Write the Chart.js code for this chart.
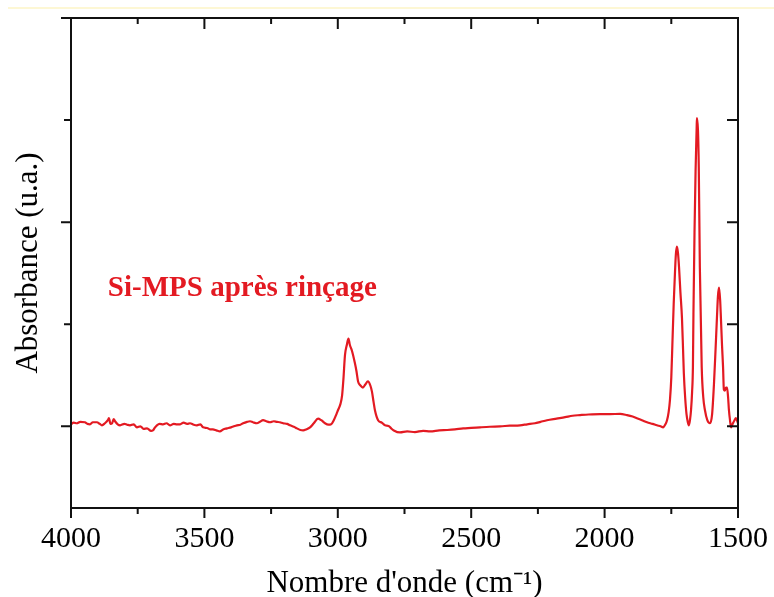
<!DOCTYPE html>
<html>
<head>
<meta charset="utf-8">
<script src="https://cdn.jsdelivr.net/npm/chart.js@4.4.0/dist/chart.umd.min.js"></script>
<style>
  html, body { margin: 0; padding: 0; background: #fff; }
</style>
</head>
<body>
<canvas id="myChart" width="774" height="597"></canvas>
<script>
// IR spectrum, values
var wavenumbers = [
  4000, 3990, 3978, 3965, 3948, 3938, 3929, 3918, 3903, 3892, 3884, 3873, 3862, 3858, 3852, 3846, 3840, 3835, 3825, 3816,
  3800, 3790, 3779, 3765, 3753, 3740, 3728, 3715, 3700, 3693, 3685, 3678, 3668, 3655, 3642, 3629, 3615, 3603, 3591, 3578,
  3565, 3554, 3540, 3528, 3515, 3505, 3490, 3478, 3468, 3455, 3442, 3430, 3415, 3400, 3390, 3378, 3365, 3355, 3340, 3329,
  3318, 3303, 3292, 3280, 3268, 3254, 3240, 3228, 3217, 3205, 3190, 3179, 3165, 3153, 3140, 3130, 3118, 3104, 3090, 3074,
  3062, 3048, 3035, 3025, 3015, 3005, 2999, 2990, 2984, 2979, 2973, 2966, 2960, 2955, 2947, 2936, 2930, 2924, 2915, 2906,
  2897, 2887, 2878, 2872, 2866, 2861, 2849, 2835, 2823, 2810, 2800, 2790, 2767, 2740, 2711, 2680, 2654, 2620, 2590, 2561,
  2530, 2500, 2467, 2430, 2392, 2355, 2317, 2290, 2261, 2240, 2216, 2180, 2148, 2120, 2092, 2060, 2017, 1980, 1942, 1916,
  1895, 1879, 1860, 1841, 1820, 1804, 1790, 1781, 1772, 1766, 1760, 1755, 1750, 1746, 1741, 1736, 1733, 1729, 1725, 1721,
  1716, 1710, 1706, 1703, 1698, 1693, 1688, 1684, 1680, 1676, 1672, 1669, 1667, 1663, 1659, 1655, 1654, 1650, 1647, 1643,
  1636, 1630, 1624, 1615, 1605, 1597, 1590, 1584, 1579, 1575, 1571, 1567, 1564, 1560, 1556, 1553, 1549, 1545, 1541, 1537,
  1534, 1530, 1526, 1519, 1513, 1508, 1500
];
var absorbance = [
  0.010, 0.018, 0.015, 0.022, 0.020, 0.012, 0.010, 0.020, 0.020, 0.012, 0.005, 0.015, 0.030, 0.040, 0.012, 0.015, 0.035, 0.025, 0.010, 0.005,
  0.012, 0.008, 0.005, 0.010, -0.005, 0.000, -0.012, -0.010, -0.022, -0.020, -0.005, 0.005, 0.012, 0.010, 0.015, 0.005, 0.012, 0.010, 0.010, 0.018,
  0.012, 0.015, 0.008, 0.005, 0.010, -0.005, -0.008, -0.015, -0.015, -0.020, -0.025, -0.015, -0.010, -0.005, 0.000, 0.005, 0.008, 0.015, 0.022, 0.025,
  0.020, 0.015, 0.022, 0.030, 0.025, 0.020, 0.025, 0.022, 0.020, 0.015, 0.012, 0.005, -0.002, -0.010, -0.018, -0.020, -0.015, -0.005, 0.015, 0.038,
  0.030, 0.015, 0.008, 0.010, 0.030, 0.060, 0.080, 0.110, 0.150, 0.230, 0.350, 0.400, 0.430, 0.400, 0.370, 0.310, 0.270, 0.220, 0.200, 0.190,
  0.205, 0.220, 0.200, 0.170, 0.120, 0.080, 0.030, 0.018, 0.005, 0.002, -0.010, -0.020, -0.030, -0.025, -0.028, -0.022, -0.025, -0.020, -0.018, -0.015,
  -0.010, -0.008, -0.005, -0.002, 0.000, 0.003, 0.005, 0.010, 0.015, 0.022, 0.030, 0.038, 0.045, 0.052, 0.055, 0.058, 0.060, 0.060, 0.061, 0.055,
  0.048, 0.040, 0.030, 0.020, 0.012, 0.005, 0.000, -0.005, 0.010, 0.030, 0.070, 0.130, 0.240, 0.400, 0.600, 0.760, 0.840, 0.880, 0.850, 0.780,
  0.660, 0.530, 0.380, 0.260, 0.140, 0.060, 0.020, 0.005, 0.030, 0.080, 0.170, 0.290, 0.550, 0.950, 1.250, 1.460, 1.510, 1.450, 1.270, 0.780,
  0.290, 0.140, 0.080, 0.030, 0.015, 0.060, 0.210, 0.380, 0.530, 0.640, 0.680, 0.620, 0.530, 0.400, 0.290, 0.180, 0.175, 0.190, 0.190, 0.140,
  0.080, 0.030, -0.005, 0.015, 0.030, 0.040, 0.015
];
var xMajorTicks = [4000, 3500, 3000, 2500, 2000, 1500];
var xMinorTicks = [3750, 3250, 2750, 2250, 1750];
var yMajorTicks = [0, 1];
var yMinorTicks = [0.5, 1.5];
var sampleLabel = 'Si-MPS après rinçage';
var labelAt = [3862, 0.64];

var red = '#e31a22';

var points = wavenumbers.map(function (w, i) { return { x: w, y: absorbance[i] }; });

// frame, mirrored tick marks and the in-plot label
var frameTicks = {
  id: 'frameTicks',
  beforeDraw: function (chart) {
    var c = chart.ctx;
    c.save();
    c.strokeStyle = '#fcf5c6';
    c.lineWidth = 1.5;
    c.beginPath();
    c.moveTo(8, 8);
    c.lineTo(774, 8);
    c.stroke();
    c.restore();
  },
  afterDraw: function (chart) {
    var c = chart.ctx, a = chart.chartArea, xs = chart.scales.x, ys = chart.scales.y;
    c.save();
    c.strokeStyle = '#111';
    c.lineWidth = 2;
    c.strokeRect(a.left, a.top, a.right - a.left, a.bottom - a.top);
    c.beginPath();
    c.moveTo(a.left - 10, a.top);
    c.lineTo(a.left, a.top);
    xMajorTicks.forEach(function (v) {
      var px = xs.getPixelForValue(v);
      c.moveTo(px, a.bottom); c.lineTo(px, a.bottom + 10);
      c.moveTo(px, a.top); c.lineTo(px, a.top + 11);
    });
    xMinorTicks.forEach(function (v) {
      var px = xs.getPixelForValue(v);
      c.moveTo(px, a.bottom); c.lineTo(px, a.bottom + 6);
      c.moveTo(px, a.top); c.lineTo(px, a.top + 6);
    });
    yMajorTicks.forEach(function (v) {
      var py = ys.getPixelForValue(v);
      c.moveTo(a.left, py); c.lineTo(a.left - 10, py);
      c.moveTo(a.right, py); c.lineTo(a.right - 11, py);
    });
    yMinorTicks.forEach(function (v) {
      var py = ys.getPixelForValue(v);
      c.moveTo(a.left, py); c.lineTo(a.left - 7, py);
      c.moveTo(a.right, py); c.lineTo(a.right - 11, py);
    });
    c.stroke();

    c.fillStyle = red;
    c.font = 'bold 29px "Liberation Serif"';
    c.textBaseline = 'alphabetic';
    c.textAlign = 'left';
    c.fillText(sampleLabel, xs.getPixelForValue(labelAt[0]), ys.getPixelForValue(labelAt[1]));
    c.restore();
  }
};

Chart.defaults.color = '#000';
Chart.defaults.font.family = '"Liberation Serif", serif';

var ctx = document.getElementById('myChart').getContext('2d');
var myChart = new Chart(ctx, {
  type: 'line',
  data: {
    datasets: [{
      label: sampleLabel,
      data: points,
      borderColor: red,
      borderWidth: 2.2,
      pointRadius: 0,
      fill: false,
      cubicInterpolationMode: 'monotone'
    }]
  },
  options: {
    responsive: false,
    animation: false,
    devicePixelRatio: 1,
    layout: { padding: { top: 18, right: 36, left: 0, bottom: 0 } },
    plugins: {
      legend: { display: false },
      tooltip: { enabled: false }
    },
    scales: {
      x: {
        type: 'linear',
        reverse: true,
        min: 1500,
        max: 4000,
        grid: { display: false, drawTicks: false },
        border: { display: false },
        ticks: {
          stepSize: 500,
          padding: 13,
          maxRotation: 0,
          font: { size: 30 },
          callback: function (v) { return String(v); }
        },
        title: {
          display: true,
          text: "Nombre d'onde (cm\u207B\u00B9)",
          font: { size: 31, lineHeight: 0.85 },
          padding: { top: 0, bottom: 0 }
        },
        afterFit: function (s) {
          s.height = 89;
          s.paddingLeft = 0;
          s.paddingRight = 0;
        }
      },
      y: {
        min: -0.4,
        max: 2.0,
        grid: { display: false, drawTicks: false },
        border: { display: false },
        ticks: { display: false },
        title: {
          display: true,
          text: 'Absorbance (u.a.)',
          font: { size: 31 },
          padding: { top: 10, bottom: 0 }
        },
        afterFit: function (s) { s.width = 71; }
      }
    }
  },
  plugins: [frameTicks]
});
</script>
</body>
</html>
